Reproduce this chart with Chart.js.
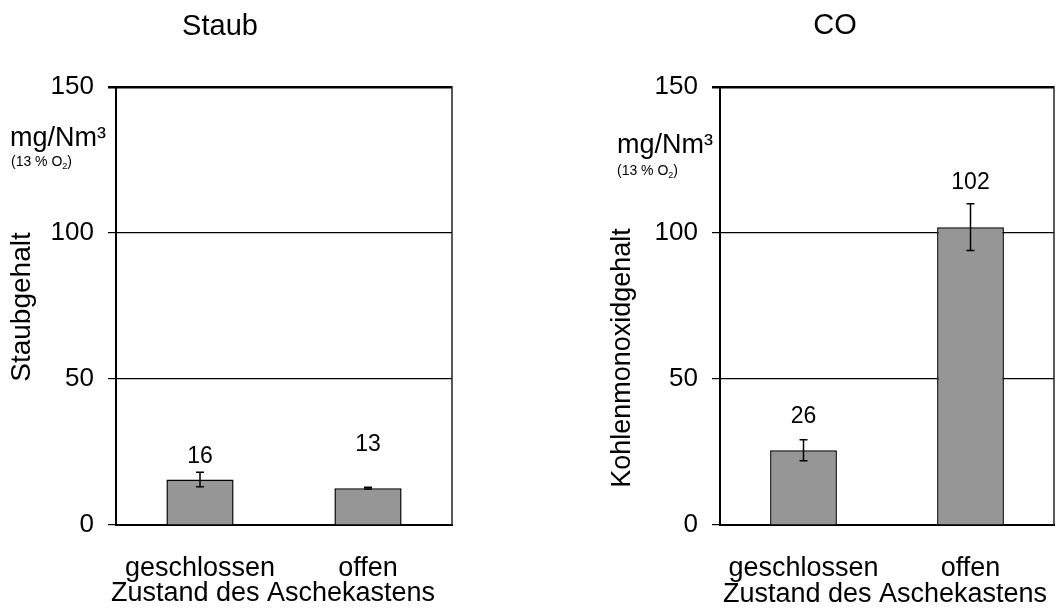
<!DOCTYPE html>
<html>
<head>
<meta charset="utf-8">
<script src="https://cdn.jsdelivr.net/npm/chart.js@4"></script>
<style>
  body { margin: 0; background: #fff; }
  #wrap { position: relative; width: 1061px; height: 614px; }
  canvas { position: absolute; top: 0; }
</style>
</head>
<body>
<div id="wrap">
  <canvas id="staubChart" width="530" height="614" style="left:0"></canvas>
  <canvas id="coChart" width="531" height="614" style="left:530px"></canvas>
</div>
<script>
// Daten
const categories = ['geschlossen', 'offen'];
const yTicks = [0, 50, 100, 150];

const staubValues = [15.6, 12.6];
const staubErrors = [2.5, 0.3];

const coValues = [25.6, 102.0];
const coErrors = [3.6, 8.0];

const FONT = "'Liberation Sans', Arial, sans-serif";

// Fehlerbalken + Werte-Beschriftung
const errorBarPlugin = {
  id: 'errorBars',
  afterDatasetsDraw(chart, args, opts) {
    const ctx = chart.ctx;
    const yScale = chart.scales.y;
    const meta = chart.getDatasetMeta(0);
    const values = chart.data.datasets[0].data;
    ctx.save();
    ctx.strokeStyle = '#000';
    ctx.lineWidth = 1.5;
    meta.data.forEach((bar, i) => {
      const v = values[i];
      const e = opts.errors[i];
      const yHi = yScale.getPixelForValue(v + e);
      const yLo = yScale.getPixelForValue(v - e);
      ctx.beginPath();
      ctx.moveTo(bar.x, yHi); ctx.lineTo(bar.x, yLo);
      ctx.moveTo(bar.x - 4, yHi); ctx.lineTo(bar.x + 4, yHi);
      ctx.moveTo(bar.x - 4, yLo); ctx.lineTo(bar.x + 4, yLo);
      ctx.stroke();
      // Wert
      ctx.fillStyle = '#000';
      ctx.font = '23px ' + FONT;
      ctx.textAlign = 'center';
      ctx.textBaseline = 'middle';
      ctx.fillText(String(Math.round(v)), bar.x, yHi - opts.labelOffset[i]);
    });
    ctx.restore();
  }
};

// rechter Rahmen + freie Texte
const textPlugin = {
  id: 'freeText',
  afterDraw(chart, args, opts) {
    const ctx = chart.ctx;
    const a = chart.chartArea;
    ctx.save();
    ctx.strokeStyle = '#222';
    ctx.lineWidth = 1.5;
    ctx.beginPath();
    ctx.moveTo(a.right, a.top - 1);
    ctx.lineTo(a.right, a.bottom);
    ctx.stroke();

    ctx.fillStyle = '#000';
    opts.items.forEach(it => {
      ctx.save();
      ctx.translate(it.x, it.y);
      if (it.rotate) ctx.rotate(it.rotate);
      ctx.font = it.size + 'px ' + FONT;
      ctx.textAlign = it.align || 'left';
      ctx.textBaseline = it.baseline || 'alphabetic';
      if (it.sub) {
        // "(13 % O" + tiefgestellte 2 + ")"
        ctx.textAlign = 'left';
        let x = 0;
        ctx.fillText(it.text, x, 0);
        x += ctx.measureText(it.text).width;
        ctx.font = Math.round(it.size * 0.65) + 'px ' + FONT;
        ctx.fillText(it.sub, x, 3);
        x += ctx.measureText(it.sub).width;
        ctx.font = it.size + 'px ' + FONT;
        ctx.fillText(it.after, x, 0);
      } else {
        ctx.fillText(it.text, 0, 0);
      }
      ctx.restore();
    });
    ctx.restore();
  }
};

function makeChart(canvasId, values, errors, labelOffset, yWidth, padRight, items) {
  const ctx = document.getElementById(canvasId).getContext('2d');
  return new Chart(ctx, {
    type: 'bar',
    data: {
      labels: categories,
      datasets: [{
        data: values,
        backgroundColor: '#969696',
        borderColor: '#000',
        borderWidth: 1.5,
        barPercentage: 0.4,
        categoryPercentage: 1.0
      }]
    },
    options: {
      responsive: false,
      animation: false,
      devicePixelRatio: 1,
      layout: { padding: { left: 0, right: padRight, top: 87, bottom: 0 } },
      plugins: {
        legend: { display: false },
        tooltip: { enabled: false },
        title: { display: false },
        errorBars: { errors: errors, labelOffset: labelOffset },
        freeText: { items: items }
      },
      scales: {
        x: {
          grid: { display: false, drawTicks: false },
          border: { display: true, color: '#000', width: 2 },
          ticks: { color: '#000', font: { family: FONT, size: 27 }, padding: 27, maxRotation: 0 },
          afterFit: (s) => { s.height = 89; }
        },
        y: {
          min: 0,
          max: 150,
          afterBuildTicks: (s) => { s.ticks = yTicks.map(v => ({ value: v })); },
          grid: {
            color: '#000',
            lineWidth: (c) => (c.tick && c.tick.value === 150 ? 2.5 : 1.2),
            tickLength: 8
          },
          border: { display: true, color: '#000', width: 2 },
          ticks: { color: '#000', font: { family: FONT, size: 26 }, padding: 14 },
          afterFit: (s) => { s.width = yWidth; }
        }
      }
    },
    plugins: [errorBarPlugin, textPlugin]
  });
}

makeChart('staubChart', staubValues, staubErrors, [15, 43], 116, 78, [
  { text: 'Staub', x: 220, y: 35, size: 29, align: 'center' },
  { text: 'mg/Nm³', x: 10, y: 146, size: 27 },
  { text: '(13 % O', sub: '2', after: ')', x: 11, y: 166, size: 14 },
  { text: 'Staubgehalt', x: 22, y: 307, size: 28, align: 'center', baseline: 'middle', rotate: -Math.PI / 2 },
  { text: 'Zustand des Aschekastens', x: 273, y: 601, size: 27, align: 'center' }
]);

makeChart('coChart', coValues, coErrors, [23, 21], 190, 7, [
  { text: 'CO', x: 305, y: 34, size: 29, align: 'center' },
  { text: 'mg/Nm³', x: 87, y: 153, size: 27 },
  { text: '(13 % O', sub: '2', after: ')', x: 87, y: 175, size: 14 },
  { text: 'Kohlenmonoxidgehalt', x: 93, y: 358, size: 27, align: 'center', baseline: 'middle', rotate: -Math.PI / 2 },
  { text: 'Zustand des Aschekastens', x: 355, y: 602, size: 27, align: 'center' }
]);
</script>
</body>
</html>
